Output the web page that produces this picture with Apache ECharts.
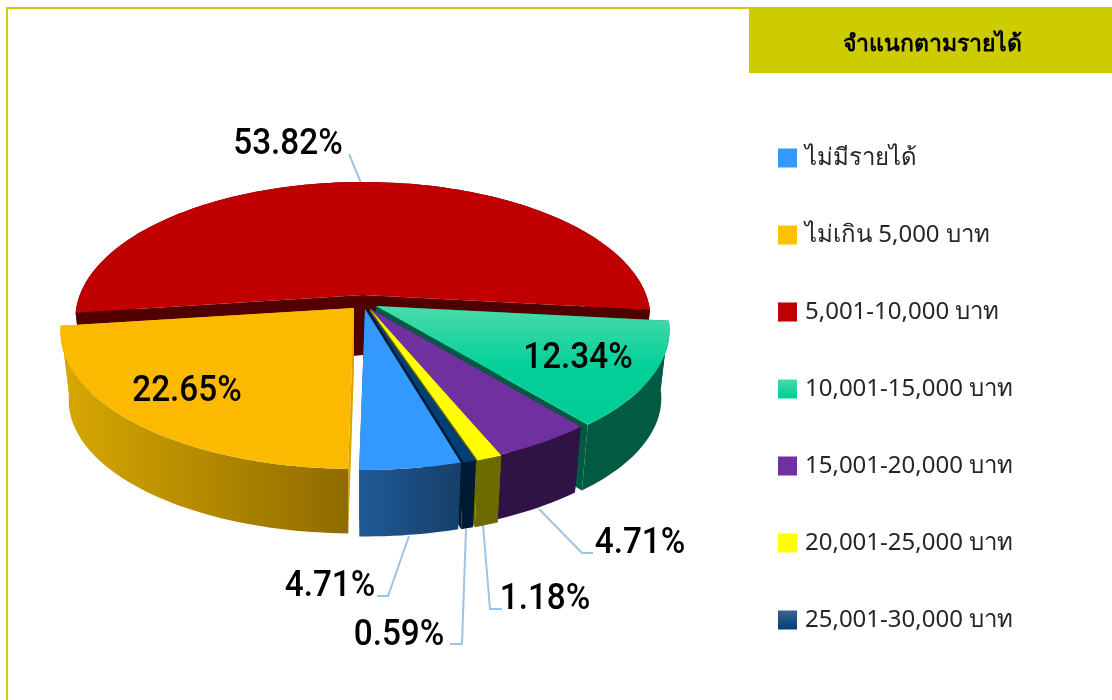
<!DOCTYPE html>
<html>
<head>
<meta charset="utf-8">
<style>html,body{margin:0;padding:0;background:#fff}#c{width:1112px;height:700px}</style>
<script src="https://cdn.jsdelivr.net/npm/echarts@6/dist/echarts.min.js"></script>
</head>
<body>
<div id="c"></div>
<script>
// ---- data ----
const titleText = 'จำแนกตามรายได้';
const categories = ['ไม่มีรายได้','ไม่เกิน 5,000 บาท','5,001-10,000 บาท','10,001-15,000 บาท','15,001-20,000 บาท','20,001-25,000 บาท','25,001-30,000 บาท'];
const shares = [4.71, 22.65, 53.82, 12.34, 4.71, 1.18, 0.59];

// ---- styles and layout (no data) ----
const v = (c0, c1) => ({type:'linear',x:0,y:0,x2:0,y2:1,colorStops:[{offset:0,color:c0},{offset:1,color:c1}]});
const h = (c0, c1) => ({type:'linear',x:0,y:0,x2:1,y2:0,colorStops:[{offset:0,color:c0},{offset:1,color:c1}]});
const greenTop = {type:'linear',x:0,y:0,x2:0,y2:1,colorStops:[{offset:0,color:'#4ADBAB'},{offset:.5,color:'#05D09A'},{offset:1,color:'#00CC96'}]};
const sliceStyle = [
  {top:'#3399FF', rim:h('#1F5B97','#173F6A'), cut:'#1B4C80', legend:'#3399FF', tip:[365,309], z:8, r:1, d:71},
  {top:'#FBB900', rim:h('#D8A800','#8F6B00'), cut:'#D9A400', legend:'#FFC000', tip:[354,308], z:7, r:1, d:69},
  {top:'#C00000', rim:'#500000',              cut:'#500000', legend:'#C00000', tip:[363,295], z:2, r:0.98, d:69},
  {top:greenTop,  rim:'#035A42',              cut:'#035A42', legend:v('#45DBA6','#00CC96'), tip:[376,306], z:3, r:1, d:69},
  {top:'#7030A0', rim:'#2E1344',              cut:'#2E1344', legend:'#7030A0', tip:[369,308], z:4, r:1, d:69},
  {top:'#FFFF00', rim:'#6B6B00',              cut:'#6B6B00', legend:'#FFFF00', tip:[370,309], z:5, r:1, d:71},
  {top:'#003E78', rim:'#001A33',              cut:'#001A33', legend:v('#3D648F','#003E78'), tip:[368,309], z:6, r:1, d:71}
];
const labelLayout = [
  {at:[330,587], line:[[409,536],[388,596],[377,596]]},
  {at:[187,392], line:null},
  {at:[288,145], line:[[349,154],[361,183]]},
  {at:[578,359], line:null},
  {at:[640,544], line:[[539,509],[582,553],[593,553]]},
  {at:[545,600], line:[[483,525],[490,609],[502,609]]},
  {at:[399,636], line:[[466,529],[462,644],[450,644]]}
];
const firstAngle = 164;      // clockwise from top, where the first slice starts
const RX = 289, RY = 132.8, PERSP = 0.175, TIP_DEPTH = 60, BASE_SCALE = 0.972;
const LEADER = '#9DC3E6', FRAME = '#CCCC00';

function project(tip, deg, r) {
  const a = deg * Math.PI / 180, u = Math.sin(a), w = -Math.cos(a), s = 1 / (1 - PERSP * w);
  return [tip[0] + RX * r * u * s, tip[1] + RY * w * s];
}
const lower = (tip, p, d) => [tip[0] + (p[0]-tip[0]) * BASE_SCALE, tip[1] + (p[1]-tip[1]) * BASE_SCALE + d];

function sliceRenderer(index) {
  return function (params, api) {
    const value = api.value(0);
    const st = sliceStyle[index], lay = labelLayout[index], tip = st.tip;
    const before = shares.slice(0, index).reduce((a, b) => a + b, 0);
    const a0 = firstAngle + before * 3.6, a1 = a0 + value * 3.6;
    const n = Math.max(2, Math.ceil((a1 - a0) / 1.5));
    const rim = [];
    for (let i = 0; i <= n; i++) rim.push(project(tip, a0 + (a1 - a0) * i / n, st.r));
    const base = rim.map(p => lower(tip, p, st.d));
    const tipLow = [tip[0], tip[1] + TIP_DEPTH];
    const poly = (points, fill) => ({type:'polygon', silent:true, shape:{points}, style:{fill}});
    const children = [];
    if (lay.line) children.push({type:'polyline', silent:true, shape:{points:lay.line}, style:{stroke:LEADER, lineWidth:2, fill:null}});
    children.push(poly([tip, rim[0], base[0], tipLow], st.cut));
    children.push(poly([tip, rim[n], base[n], tipLow], st.cut));
    children.push(poly(rim.concat(base.slice().reverse()), st.rim));
    children.push(poly([tip].concat(rim), st.top));
    children.push({type:'text', silent:true, x:lay.at[0], y:lay.at[1], scaleX:0.9,
      style:{text:value.toFixed(2)+'%', font:'500 37px Roboto, sans-serif', fill:'#000', align:'center', verticalAlign:'middle'}});
    return {type:'group', children};
  };
}

const chart = echarts.init(document.getElementById('c'), null, {renderer:'canvas'});
chart.setOption({
  animation:false,
  backgroundColor:'#fff',
  title:{text:titleText, left:927, top:28, textAlign:'center',
    textStyle:{fontFamily:'"Noto Sans", sans-serif', fontWeight:'bold', fontSize:23, color:'#000'}},
  legend:{orient:'vertical', left:773, top:141, icon:'rect', itemWidth:19, itemHeight:19, itemGap:53, selectedMode:false,
    data:categories,
    textStyle:{fontFamily:'"Noto Sans", sans-serif', fontSize:24, color:'#262626', padding:[0,0,0,3]}},
  graphic:[
    {type:'rect', shape:{x:6,y:7,width:2,height:693}, style:{fill:FRAME}, silent:true},
    {type:'rect', shape:{x:6,y:7,width:1106,height:2}, style:{fill:FRAME}, silent:true},
    {type:'rect', shape:{x:749,y:7,width:363,height:66}, style:{fill:FRAME}, silent:true, z:-1}
  ],
  series: categories.map((name, i) => ({
    type:'custom', name, coordinateSystem:'none', z:sliceStyle[i].z,
    itemStyle:{color:sliceStyle[i].legend},
    renderItem:sliceRenderer(i),
    data:[[shares[i]]]
  }))
});
</script>
</body>
</html>
